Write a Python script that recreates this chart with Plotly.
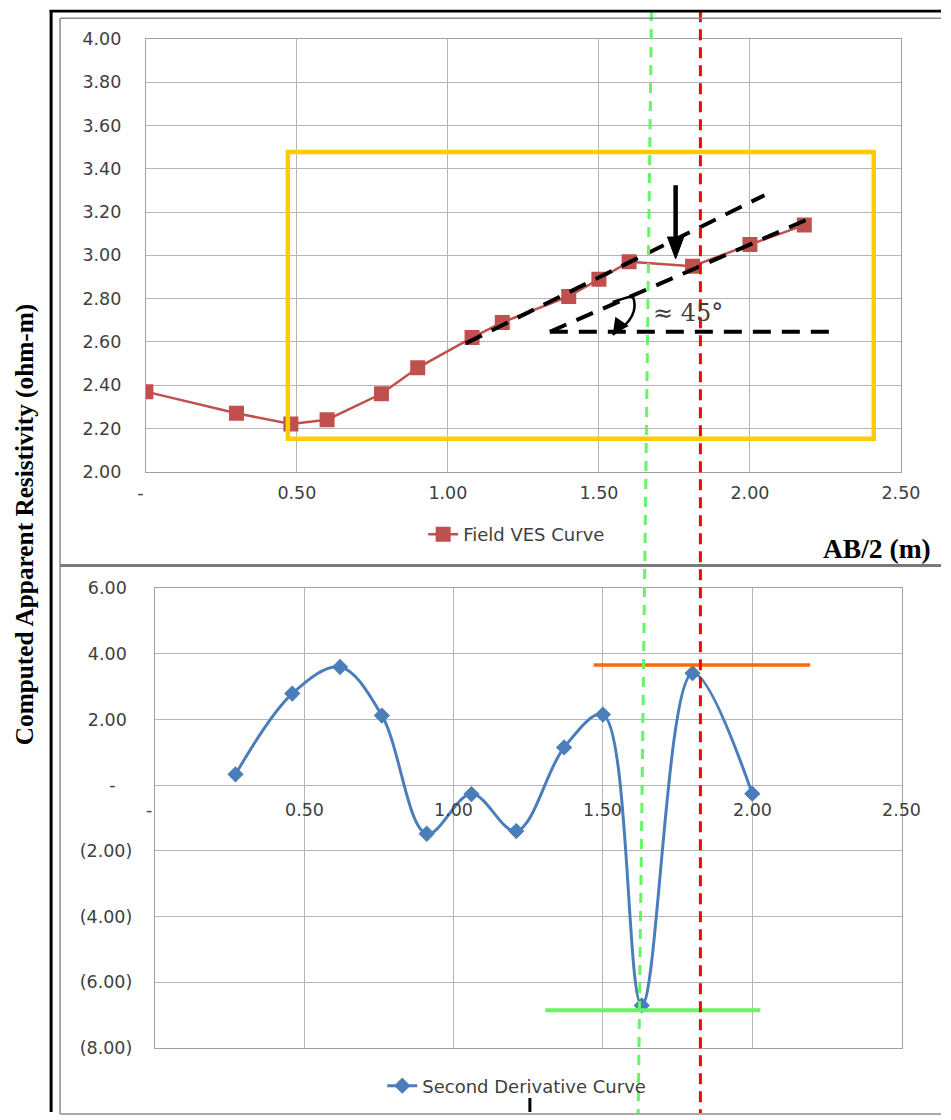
import plotly.graph_objects as go

# The photographed page shows the body with its default 8px margin and a
# slightly larger capture area; map reference pixels to figure pixels.
OFF = 8
SX, SY = 0.9733, 0.9832
W, H = 960, 1122

# ---------------- data ----------------
# Top chart: Field VES curve (log10 AB/2 vs log10 apparent resistivity)
ves_x = [0.00, 0.30, 0.48, 0.60, 0.78, 0.90, 1.08, 1.18, 1.40, 1.50, 1.60, 1.81, 2.00, 2.18]
ves_y = [2.37, 2.27, 2.22, 2.24, 2.36, 2.48, 2.62, 2.69, 2.81, 2.89, 2.97, 2.95, 3.05, 3.14]

# Bottom chart: second derivative curve
d2_x = [0.27, 0.46, 0.62, 0.76, 0.91, 1.06, 1.21, 1.37, 1.50, 1.63, 1.80, 2.00]
d2_y = [0.33, 2.79, 3.60, 2.12, -1.48, -0.27, -1.40, 1.15, 2.15, -6.71, 3.41, -0.26]

x_ticks = [0.0, 0.5, 1.0, 1.5, 2.0, 2.5]
x_labels = ["-\u00a0\u00a0", "0.50", "1.00", "1.50", "2.00", "2.50"]
top_y_ticks = [2.0, 2.2, 2.4, 2.6, 2.8, 3.0, 3.2, 3.4, 3.6, 3.8, 4.0]
top_y_labels = ["2.00", "2.20", "2.40", "2.60", "2.80", "3.00", "3.20", "3.40", "3.60", "3.80", "4.00"]
bot_y_ticks = [-8, -6, -4, -2, 0, 2, 4, 6]
bot_y_labels = ["(8.00)", "(6.00)", "(4.00)", "(2.00)", "-\u00a0\u00a0\u00a0",
                "2.00\u00a0", "4.00\u00a0", "6.00\u00a0"]

# annotation geometry in data units (top axes unless noted)
yellow_box = dict(x0=0.47, x1=2.41, y0=2.152, y1=3.478)
upper_dash = dict(x0=1.059, y0=2.593, x1=2.048, y1=3.278)
lower_dash = dict(x0=1.3375, y0=2.647, x1=2.185, y1=3.163)
horiz_dash = dict(x0=1.3375, y0=2.647, x1=2.293, y1=2.647)
down_arrow = dict(x=1.754, y_tail=3.324, y_base=3.085, y_tip=2.984, half_w=0.027)
arc_pts = [(1.5456, 2.785), (1.6116, 2.813), (1.640, 2.716), (1.5456, 2.633)]
angle_text = dict(x=1.795, y=2.735, text="\u2248 45\u00b0")
red_x = 1.836                 # top-axis units
green_x_top, green_x_bot = 1.674, 1.630
orange_bar = dict(x0=1.469, x1=2.194, y=3.66)   # bottom-axis units
green_bar = dict(x0=1.307, x1=2.027, y=-6.86)   # bottom-axis units


def px(x):
    return (x / SX - OFF) / W


def py(y):
    return 1 - (y / SY - OFF) / H


TICKFONT = dict(family="DejaVu Sans", size=17.5, color="#404040")
LEGFONT = dict(family="DejaVu Sans", size=18, color="#404040")
GRID = "#B5B5B5"
LINE = "#A0A0A0"

fig = go.Figure()

fig.add_trace(go.Scatter(
    x=ves_x, y=ves_y, mode="lines+markers", name="Field VES Curve",
    line=dict(color="#C0504D", width=2.5),
    marker=dict(symbol="square", size=15, color="#C0504D"),
    xaxis="x", yaxis="y", legend="legend"))

fig.add_trace(go.Scatter(
    x=d2_x, y=d2_y, mode="lines+markers", name="Second Derivative Curve",
    line=dict(color="#4A7EBB", width=3, shape="spline", smoothing=1.0),
    marker=dict(symbol="diamond", size=12.5, color="#4A7EBB"),
    xaxis="x2", yaxis="y2", legend="legend2"))

axis_common = dict(showgrid=True, gridcolor=GRID, gridwidth=1, showline=True,
                   linecolor=LINE, linewidth=1, mirror=True, ticks="",
                   zeroline=False, tickfont=TICKFONT)

fig.update_layout(
    width=W, height=H, margin=dict(l=0, r=0, t=0, b=0),
    paper_bgcolor="white", plot_bgcolor="white",
    xaxis=dict(domain=[px(145), px(902)], range=[0, 2.5], anchor="y",
               tickvals=x_ticks, ticktext=x_labels, ticklabelstandoff=5,
               **axis_common),
    yaxis=dict(domain=[py(470), py(37)], range=[2, 4], anchor="x",
               tickvals=top_y_ticks, ticktext=top_y_labels, ticklabelstandoff=20,
               **axis_common),
    xaxis2=dict(domain=[px(154), px(902.7)], range=[0, 2.5], anchor="y2",
                tickvals=x_ticks, showticklabels=False, **axis_common),
    yaxis2=dict(domain=[py(1046.7), py(586.7)], range=[-8, 6], anchor="x2",
                tickvals=bot_y_ticks, ticktext=bot_y_labels, ticklabelstandoff=18,
                **axis_common),
    legend=dict(x=px(423), y=py(533), xanchor="left", yanchor="middle",
                bgcolor="rgba(0,0,0,0)", font=LEGFONT),
    legend2=dict(x=px(382), y=py(1085), xanchor="left", yanchor="middle",
                 bgcolor="rgba(0,0,0,0)", font=LEGFONT),
    showlegend=True,
)

# bottom chart x tick labels sit at the y = 0 crossing
for v, t in zip(x_ticks, x_labels):
    fig.add_annotation(x=v, y=0, xref="x2", yref="y2", text=t, showarrow=False,
                       yshift=-25, font=TICKFONT)

shapes = []
# yellow box
shapes.append(dict(type="rect", xref="x", yref="y", line=dict(color="#FFCC00", width=4.5),
                   **yellow_box))
# dashed black lines
for seg in (upper_dash, lower_dash, horiz_dash):
    shapes.append(dict(type="line", xref="x", yref="y",
                       line=dict(color="black", width=4, dash="18px,11px"), **seg))
# curved angle arrow
p = arc_pts
shapes.append(dict(type="path", xref="x", yref="y",
                   path=f"M {p[0][0]},{p[0][1]} L {p[1][0]},{p[1][1]} Q {p[2][0]},{p[2][1]} {p[3][0]},{p[3][1]}",
                   line=dict(color="black", width=2.5)))
# vertical arrow: shaft + triangular head
da = down_arrow
shapes.append(dict(type="line", xref="x", yref="y", x0=da["x"], x1=da["x"],
                   y0=da["y_tail"], y1=da["y_base"], line=dict(color="black", width=4.5)))
shapes.append(dict(type="path", xref="x", yref="y",
                   path=(f"M {da['x'] - da['half_w']},{da['y_base']} L {da['x'] + da['half_w']},{da['y_base']} "
                         f"L {da['x']},{da['y_tip']} Z"),
                   fillcolor="black", line=dict(color="black", width=1)))
# orange & green horizontal bars (bottom chart)
shapes.append(dict(type="line", xref="x2", yref="y2", x0=orange_bar["x0"], x1=orange_bar["x1"],
                   y0=orange_bar["y"], y1=orange_bar["y"], line=dict(color="#FF6A00", width=3.5)))
shapes.append(dict(type="line", xref="x2", yref="y2", x0=green_bar["x0"], x1=green_bar["x1"],
                   y0=green_bar["y"], y1=green_bar["y"], line=dict(color="#66F566", width=4)))
# vertical dashed marker lines across both charts
shapes.append(dict(type="line", xref="x", yref="paper", x0=green_x_top, x1=green_x_bot,
                   y0=py(9), y1=py(1112), line=dict(color="#66F566", width=3, dash="10px,8px")))
shapes.append(dict(type="line", xref="x", yref="paper", x0=red_x, x1=red_x,
                   y0=py(9), y1=py(1112), line=dict(color="#FF0000", width=3, dash="11px,7px")))
# chart frames
frame = dict(color="#8C8C8C", width=1.5)
shapes += [
    dict(type="line", xref="paper", yref="paper", x0=px(59), x1=px(59), y0=py(16), y1=py(1113), line=frame),
    dict(type="line", xref="paper", yref="paper", x0=px(59), x1=1, y0=py(16), y1=py(16), line=frame),
    dict(type="line", xref="paper", yref="paper", x0=px(59), x1=1, y0=py(564), y1=py(564),
         line=dict(color="#7A7A7A", width=3)),
    dict(type="line", xref="paper", yref="paper", x0=px(59), x1=1, y0=py(1113), y1=py(1113), line=frame),
    # outer black border
    dict(type="line", xref="paper", yref="paper", x0=px(50), x1=px(50), y0=py(8), y1=0,
         line=dict(color="black", width=3)),
    dict(type="line", xref="paper", yref="paper", x0=px(48.5), x1=1, y0=py(9), y1=py(9),
         line=dict(color="black", width=2.6)),
    dict(type="line", xref="paper", yref="paper", x0=px(530), x1=px(530), y0=py(1097), y1=0,
         line=dict(color="black", width=3)),
]
fig.update_layout(shapes=shapes)

# arrowhead of arc
fig.add_annotation(x=p[3][0], y=p[3][1], xref="x", yref="y", ax=7, ay=-10, text="",
                   showarrow=True, arrowhead=2, arrowsize=1.3, arrowwidth=2.5, arrowcolor="black")
# angle label
fig.add_annotation(x=angle_text["x"], y=angle_text["y"], xref="x", yref="y", text=angle_text["text"],
                   showarrow=False, xanchor="center", yanchor="middle",
                   font=dict(family="DejaVu Serif", size=24, color="#404040"))
# axis titles
fig.add_annotation(x=px(878), y=py(547), xref="paper", yref="paper", text="<b>AB/2 (m)</b>",
                   showarrow=False, xanchor="center", yanchor="middle",
                   font=dict(family="Liberation Serif", size=27.5, color="black"))
fig.add_annotation(x=px(23.5), y=py(523), xref="paper", yref="paper",
                   text="<b>Computed Apparent Resistivity (ohm-m)</b>", textangle=-90,
                   showarrow=False, xanchor="center", yanchor="middle",
                   font=dict(family="Liberation Serif", size=25.3, color="black"))

fig.write_html("out.html")
